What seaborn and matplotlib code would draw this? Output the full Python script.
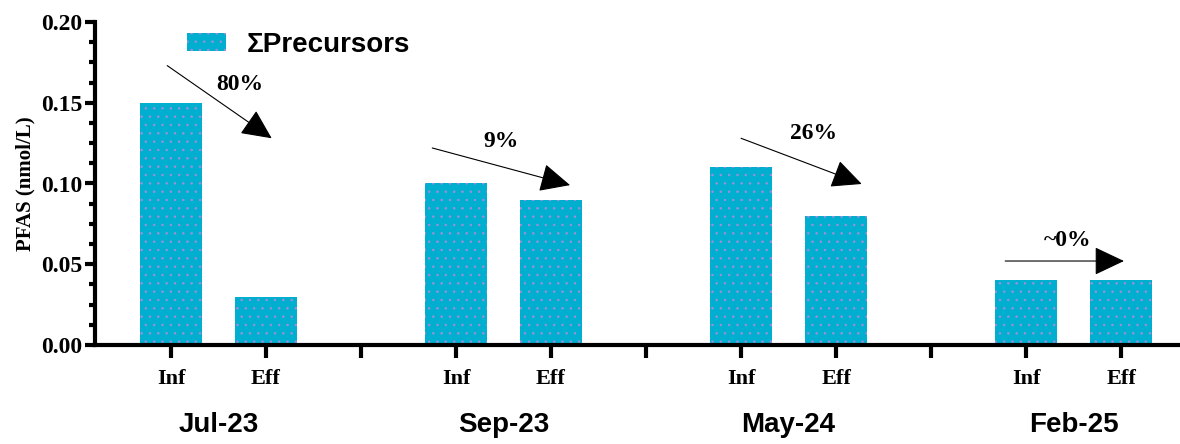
import pandas as pd
import seaborn as sns
import matplotlib.pyplot as plt
import matplotlib.transforms as mtransforms
from matplotlib.patches import ArrowStyle
from matplotlib.ticker import MultipleLocator, AutoMinorLocator, FormatStrFormatter

# values (nmol/L)
campaigns = ['Jul-23', 'Sep-23', 'May-24', 'Feb-25']
samples = ['Inf', 'Eff']
influent = [0.15, 0.10, 0.11, 0.04]
effluent = [0.03, 0.09, 0.08, 0.04]
removal = ['80%', '9%', '26%', '~0%']
series_name = 'ΣPrecursors'

# arrow start/end and label spot for each campaign (data coords)
arrow_start = [(-0.04, 0.173), (2.75, 0.122), (6.0, 0.128), (8.78, 0.052)]
arrow_end = [(1.06, 0.128), (4.2, 0.099), (7.27, 0.0997), (10.03, 0.052)]
label_xy = [(0.72, 0.161), (3.47, 0.126), (6.76, 0.131), (9.44, 0.065)]

rows = []
for i, c in enumerate(campaigns):
    rows.append({'campaign': c, 'sample': 'Inf', 'pos': i * 3, 'value': influent[i]})
    rows.append({'campaign': c, 'sample': 'Eff', 'pos': i * 3 + 1, 'value': effluent[i]})
df = pd.DataFrame(rows)

sns.set_style('ticks')
plt.rcParams['font.family'] = ['Liberation Serif', 'DejaVu Serif']
plt.rcParams['font.weight'] = 'bold'
plt.rcParams['hatch.linewidth'] = 0.6
for k in ['text.color', 'axes.labelcolor', 'xtick.color', 'ytick.color', 'xtick.labelcolor', 'ytick.labelcolor']:
    plt.rcParams[k] = 'black'

fig = plt.figure(figsize=(11.8, 4.44), dpi=100)
ax = fig.add_axes([95 / 1180, 99 / 444, 1085 / 1180, 323 / 444])

sns.barplot(data=df, x='pos', y='value', native_scale=True, width=0.66,
            color='#00AECF', saturation=1, errorbar=None, hatch='..',
            edgecolor='#9d8fd8', linewidth=0, label=series_name, ax=ax)

# axes styling
ax.set_xlim(-0.8, 10.62)
ax.set_ylim(0, 0.2)
for side in ['top', 'right']:
    ax.spines[side].set_visible(False)
for side in ['left', 'bottom']:
    ax.spines[side].set_linewidth(3)
    ax.spines[side].set_color('black')

ax.yaxis.set_major_locator(MultipleLocator(0.05))
ax.yaxis.set_minor_locator(AutoMinorLocator(4))
ax.yaxis.set_major_formatter(FormatStrFormatter('%.2f'))
ax.tick_params(axis='y', which='major', length=7, width=3, labelsize=17, pad=2)
ax.tick_params(axis='y', which='minor', length=4.5, width=3)

tick_pos = list(range(11))
tick_lab = ['' if p % 3 == 2 else samples[p % 3] for p in tick_pos]
ax.set_xticks(tick_pos)
ax.set_xticklabels(tick_lab)
ax.tick_params(axis='x', which='major', length=9, width=3, labelsize=16, pad=8)
ax.tick_params(axis='x', which='minor', length=0)
ax.set_xlabel('')
ax.set_ylabel('PFAS (nmol/L)', fontsize=15, fontweight='bold', labelpad=4)

# campaign labels under the Inf/Eff pairs
trans = mtransforms.blended_transform_factory(ax.transData, ax.transAxes)
for i, c in enumerate(campaigns):
    ax.text(i * 3 + 0.5, -0.248, c, transform=trans, ha='center', va='center',
            fontsize=20, fontweight='bold', family=['Liberation Sans', 'DejaVu Sans'])

# removal arrows
head = ArrowStyle('-|>', head_length=0.95, head_width=0.45)
for s, e, (tx, ty), r in zip(arrow_start, arrow_end, label_xy, removal):
    ax.annotate('', xy=e, xytext=s,
                arrowprops=dict(arrowstyle=head, mutation_scale=20, color='black',
                                lw=0.8, shrinkA=0, shrinkB=0))
    ax.text(tx, ty, r, ha='center', va='center', fontsize=17, fontweight='bold')

leg = ax.legend(loc='upper left', bbox_to_anchor=(0.0848, 0.97), frameon=False,
                borderaxespad=0, borderpad=0, handlelength=1.4, handleheight=0.65,
                handletextpad=0.75,
                prop={'family': ['Liberation Sans', 'DejaVu Sans'], 'weight': 'bold', 'size': 20})

fig.savefig('out.png', dpi=100)
